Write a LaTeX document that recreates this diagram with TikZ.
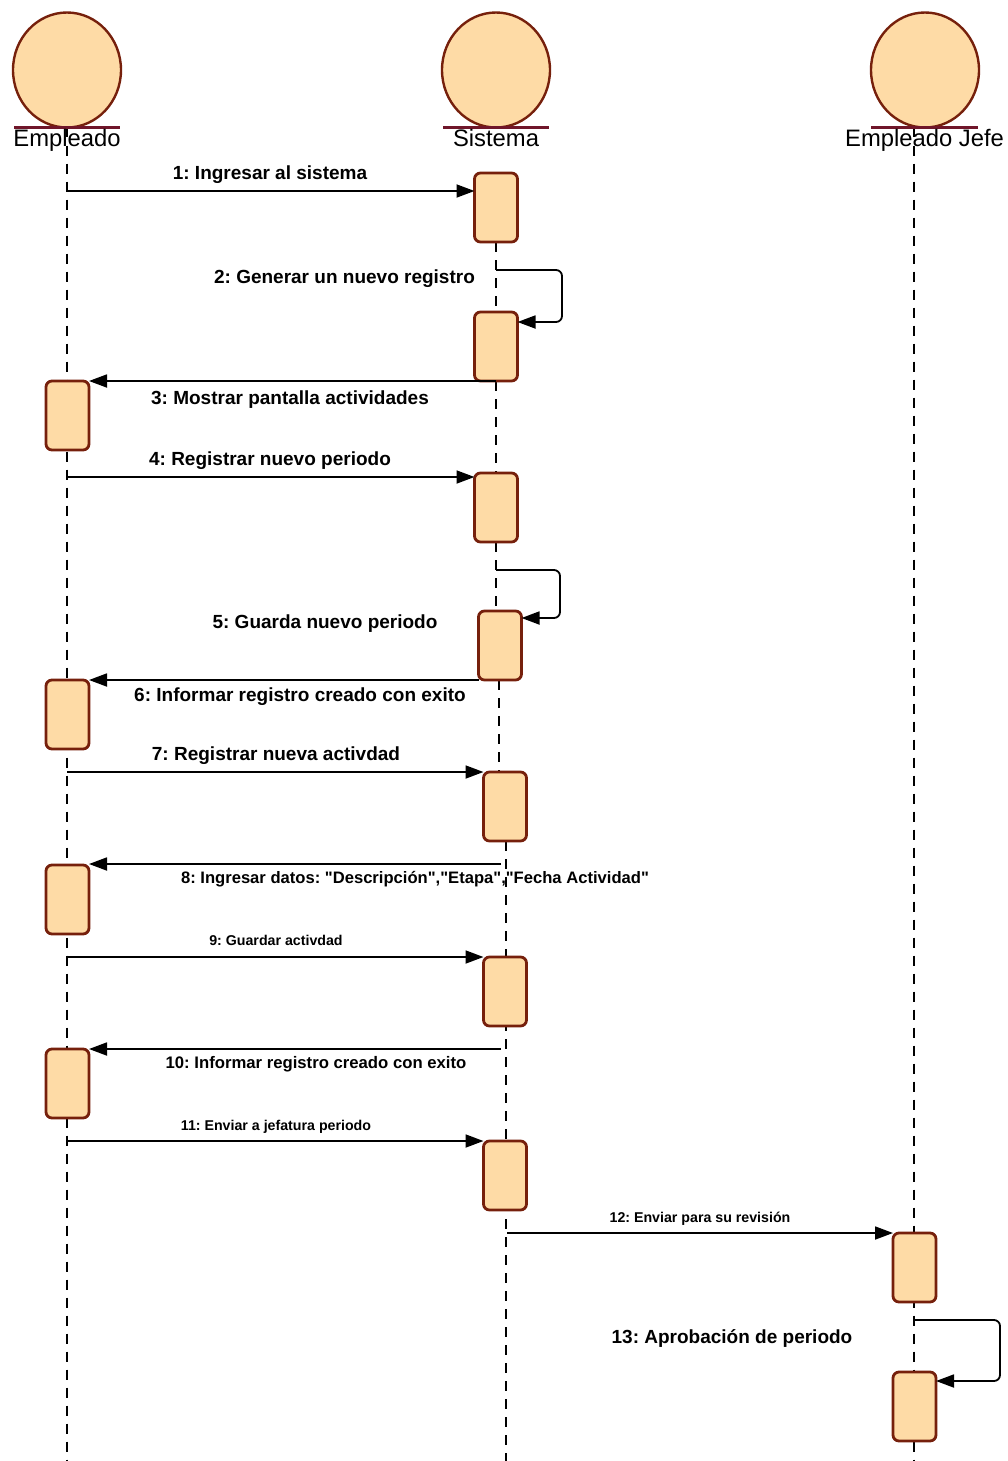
\documentclass[tikz,border=0pt]{standalone}
\usepackage{fontspec}
\setmainfont{Liberation Sans}
% same face without the TeX input mapping, so " stays a straight quote
\newfontfamily\plainsans{Liberation Sans}
\usetikzlibrary{arrows.meta,backgrounds,calc,shapes.geometric}
\frenchspacing

\definecolor{peach}{RGB}{254,219,166}
\definecolor{rim}{RGB}{118,32,12}
\definecolor{bar}{RGB}{112,22,42}

\newcommand\actorfont{\fontsize{11.9}{14}\selectfont}
\newcommand\msgfont{\bfseries\fontsize{9.5}{11}\selectfont}
\newcommand\midfont{\bfseries\fontsize{8.35}{10}\selectfont}
\newcommand\quotefont{\plainsans\bfseries\fontsize{8.3}{10}\selectfont}
\newcommand\smallmsgfont{\bfseries\fontsize{7.1}{9}\selectfont}

\tikzset{
  entity/.style={ellipse, draw=rim, line width=1.2pt, fill=peach,
    minimum width=54pt, minimum height=57.5pt, inner sep=0pt},
  entitybar/.style={draw=bar, line width=1.2pt},
  actorlabel/.style={anchor=base, inner sep=0pt, font=\actorfont},
  activation/.style={draw=rim, line width=1.4pt, fill=peach, rounded corners=3pt,
    minimum width=21.5pt, minimum height=34.5pt, inner sep=0pt, outer sep=0pt},
  lifeline/.style={dashed, dash pattern=on 5pt off 4pt, line width=0.9pt},
  msg/.style={line width=0.9pt, -{Triangle[length=9pt,width=6.5pt]}},
  selfmsg/.style={msg, rounded corners=3pt},
  lbl/.style={anchor=base, inner sep=0pt, font=\msgfont},
}

\begin{document}
\begin{tikzpicture}[x=0.5pt, y=-0.5pt]
\useasboundingbox (0,0) rectangle (1007,1461);

% participants
\node[entity] (empleado) at (67,70) {};
\node[entity] (sistema) at (496,70) {};
\node[entity] (jefe) at (925,70) {};
\draw[entitybar] (14,127.5) coordinate (barE1) -- (120,127.5) coordinate (barE2);
\draw[entitybar] (443,127.5) coordinate (barS1) -- (549,127.5) coordinate (barS2);
\draw[entitybar] (871,127.5) coordinate (barJ1) -- (978,127.5) coordinate (barJ2);
\node[actorlabel] (lblE) at (67,147) {Empleado};
\node[actorlabel] (lblS) at (496,147) {Sistema};
\node[actorlabel] (lblJ) at (924.5,147) {Empleado Jefe};

% lifeline anchors
\coordinate (lE) at (67,127.5);
\coordinate (lEend) at (67,1461);
\coordinate (lJ) at (914,127.5);
\coordinate (lJend) at (914,1461);
\coordinate (lSend) at (506,1461);

% activation bars
\node[activation] (a1) at (496,207.5) {};
\node[activation] (a2) at (496,346.5) {};
\node[activation] (a3) at (67.5,415.5) {};
\node[activation] (a4) at (496,507.5) {};
\node[activation] (a5) at (500,645.5) {};
\node[activation] (a6) at (67.5,714.5) {};
\node[activation] (a7) at (505,806.5) {};
\node[activation] (a8) at (67.5,899.5) {};
\node[activation] (a9) at (505,991.5) {};
\node[activation] (a10) at (67.5,1083.5) {};
\node[activation] (a11) at (505,1175.5) {};
\node[activation] (a12) at (914.5,1267.5) {};
\node[activation] (a13) at (914.5,1406.5) {};

% lifelines behind everything
\begin{pgfonlayer}{background}
\draw[lifeline] (lE) -- (lEend);
\draw[lifeline] (lJ) -- (lJend);
\draw[lifeline] (a1.south) -- (a2.north);
\draw[lifeline] (a2.south) -- (a4.north);
\draw[lifeline] (a4.south) -- (a4.south |- a5.north);
\draw[lifeline] (499,680) -- (499,772);
\draw[lifeline] (506,841) -- (lSend);
\end{pgfonlayer}

% 1
\coordinate (m1) at (0,191);
\draw[msg] (lE |- m1) -- (a1.west |- m1);
\node[lbl] (t1) at (270,179) {1: Ingresar al sistema};
% 2
\coordinate (s2a) at (496,270);
\coordinate (s2b) at (562,322);
\draw[selfmsg] (s2a) -| (s2b) -- (a2.east |- s2b);
\node[lbl] (t2) at (344.5,283) {2: Generar un nuevo registro};
% 3
\draw[msg] (a2.south) -- (a2.south -| a3.east);
\node[lbl] (t3) at (290,404) {3: Mostrar pantalla actividades};
% 4
\coordinate (m4) at (0,477);
\draw[msg] (lE |- m4) -- (a4.west |- m4);
\node[lbl] (t4) at (270,465) {4: Registrar nuevo periodo};
% 5
\coordinate (s5a) at (496,570);
\coordinate (s5b) at (560,618);
\draw[selfmsg] (s5a) -| (s5b) -- (a5.east |- s5b);
\node[lbl] (t5) at (325,628) {5: Guarda nuevo periodo};
% 6
\draw[msg] (a5.south west) -- (a5.south west -| a6.east);
\node[lbl] (t6) at (300,701) {6: Informar registro creado con exito};
% 7
\draw[msg] (lE |- a7.north west) -- (a7.north west);
\node[lbl] (t7) at (276,760) {7: Registrar nueva activdad};
% 8
\coordinate (m8) at (501,864);
\draw[msg] (m8) -- (m8 -| a8.east);
\node[lbl, font=\quotefont] (t8) at (415,883) {8: Ingresar datos: "Descripción","Etapa","Fecha Actividad"};
% 9
\draw[msg] (lE |- a9.north west) -- (a9.north west);
\node[lbl, font=\smallmsgfont] (t9) at (276,945) {9: Guardar activdad};
% 10
\coordinate (m10) at (501,1049);
\draw[msg] (m10) -- (m10 -| a10.east);
\node[lbl, font=\midfont] (t10) at (316,1068) {10: Informar registro creado con exito};
% 11
\draw[msg] (lE |- a11.north west) -- (a11.north west);
\node[lbl, font=\smallmsgfont] (t11) at (276,1130) {11: Enviar a jefatura periodo};
% 12
\coordinate (m12) at (507,1233);
\draw[msg] (m12) -- (m12 -| a12.west);
\node[lbl, font=\smallmsgfont] (t12) at (700,1222) {12: Enviar para su revisión};
% 13
\coordinate (s13a) at (914,1320);
\coordinate (s13b) at (1000,1381);
\draw[selfmsg] (s13a) -| (s13b) -- (a13.east |- s13b);
\node[lbl] (t13) at (732,1343) {13: Aprobación de periodo};
\end{tikzpicture}
\end{document}
